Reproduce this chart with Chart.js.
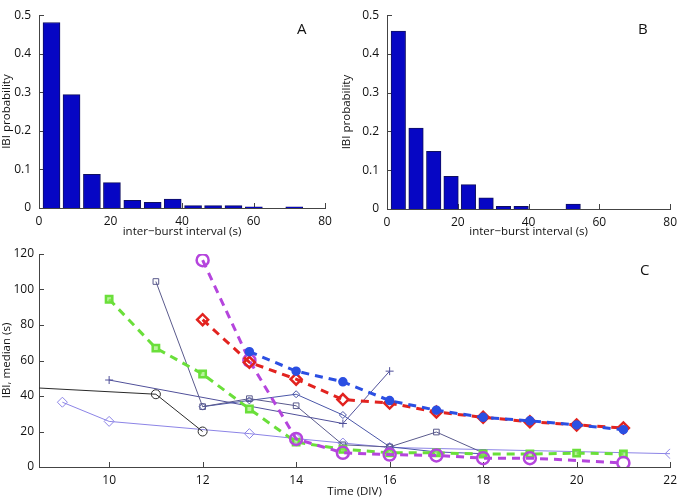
<!DOCTYPE html>
<html>
<head>
<meta charset="utf-8">
<script src="https://cdn.jsdelivr.net/npm/chart.js@4.4.1/dist/chart.umd.min.js"></script>
<style>
  body { margin: 0; background: #fff; }
  .fig { position: relative; width: 683px; height: 500px; }
  .fig canvas { position: absolute; }
  .tag { position: absolute; font: 15px "Open Sans", sans-serif; color: #111; }
</style>
</head>
<body>
<div class="fig">
  <canvas id="histA" width="340" height="240" style="left:0;top:0"></canvas>
  <canvas id="histB" width="343" height="240" style="left:340px;top:0"></canvas>
  <canvas id="lineC" width="683" height="260" style="left:0;top:240px"></canvas>
  <div class="tag" style="left:297px;top:18px">A</div>
  <div class="tag" style="left:638px;top:18px">B</div>
  <div class="tag" style="left:640px;top:259px">C</div>
</div>
<script>
// ---- panel A / B : IBI histograms
const binsA = [3.5, 9.1, 14.8, 20.4, 26.1, 31.8, 37.4, 43.1, 48.7, 54.4, 60.1, 65.7, 71.4];
const probA = [0.481, 0.294, 0.087, 0.066, 0.020, 0.015, 0.023, 0.006, 0.006, 0.006, 0.003, 0, 0.003];

const binsB = [3.2, 8.2, 13.2, 18.1, 23.0, 28.0, 32.9, 37.9, 42.8, 47.7, 52.6];
const probB = [0.459, 0.209, 0.149, 0.084, 0.063, 0.029, 0.0066, 0.0066, 0, 0, 0.013];

// ---- panel C : median IBI vs days in vitro
const blueDays = [13, 14, 15, 16, 17, 18, 19, 20, 21];
const blueIBI  = [65, 54, 48, 37.4, 32, 28, 26, 23.7, 21];
const redDays  = [12, 13, 14, 15, 16, 17, 18, 19, 20, 21];
const redIBI   = [83, 59, 49.5, 38, 36, 31, 28, 25.5, 23.7, 22];
const purpleDays = [12, 13, 14, 15, 16, 17, 18, 19, 21];
const purpleIBI  = [116.5, 60, 15.8, 8, 7, 6.5, 5, 5, 2.3];
const greenDays = [10, 11, 12, 13, 14, 15, 16, 17, 18, 19, 20, 21];
const greenIBI  = [94.5, 67, 52.4, 32.7, 14, 10, 8, 8, 7.3, 7.3, 7.8, 7.4];

const circDays = [8, 11, 12];
const circIBI  = [45.2, 41, 20];
const diamDays = [9, 10, 13, 14, 15, 16, 22];
const diamIBI  = [36.5, 25.7, 18.8, 16, 13.5, 11, 7.5];
const sqDays = [11, 12, 13, 14, 15, 16, 17, 18];
const sqIBI  = [104.5, 34, 38.5, 34.5, 12.5, 11.3, 19.7, 8];
const crossDays = [10, 15, 16];
const crossIBI  = [49, 24.5, 54];
const smallDays = [12, 13, 14, 15, 16, 17, 18];
const smallIBI  = [34, 37.5, 41, 29.3, 11.4, 8.5, 7.5];

const axisColor = "#444";
const fontFam = "'Open Sans', sans-serif";

Chart.defaults.font.family = fontFam;
Chart.defaults.color = "#111";
Chart.defaults.animation = false;

function pts(xs, ys) {
    return xs.map((x, i) => ({ x: x, y: ys[i] }));
}

// matlab style ticks pointing into the plot
const inwardTicks = {
    id: "inwardTicks",
    beforeDatasetsDraw(chart) {
        const { ctx, chartArea, scales } = chart;
        const x = scales.x, y = scales.y;
        ctx.save();
        ctx.strokeStyle = axisColor;
        ctx.lineWidth = 1;
        ctx.beginPath();
        x.ticks.forEach(t => {
            const px = Math.round(x.getPixelForValue(t.value)) + 0.5;
            ctx.moveTo(px, chartArea.bottom);
            ctx.lineTo(px, chartArea.bottom - 5);
        });
        y.ticks.forEach(t => {
            const py = Math.round(y.getPixelForValue(t.value)) + 0.5;
            ctx.moveTo(chartArea.left, py);
            ctx.lineTo(chartArea.left + 5, py);
        });
        ctx.stroke();
        ctx.restore();
    }
};

function axisX(opts) {
    return {
        type: "linear",
        offset: false,
        min: opts.min, max: opts.max,
        grid: { display: false, drawTicks: false, offset: false },
        border: { display: true, color: axisColor, width: 1 },
        ticks: { stepSize: opts.step, includeBounds: false, padding: 6, font: { size: 12 } },
        title: { display: true, text: opts.title, font: { size: 11.5 }, padding: { top: 0, bottom: 1 } },
        afterFit: s => { s.height = opts.height; }
    };
}

function axisY(opts) {
    return {
        min: opts.min, max: opts.max,
        grid: { display: false, drawTicks: false },
        border: { display: true, color: axisColor, width: 1 },
        ticks: { stepSize: opts.step, padding: opts.pad, font: { size: 12 } },
        title: { display: true, text: opts.title, font: { size: 11.5 }, padding: 0 },
        afterFit: s => { s.width = opts.width; }
    };
}

// ---------------- histograms
function histogram(id, bins, probs, thick, pad, yw, xh) {
    new Chart(document.getElementById(id), {
        type: "bar",
        data: {
            datasets: [{
                data: pts(bins, probs),
                backgroundColor: "#0606c4",
                borderColor: "#101060",
                borderWidth: 1,
                borderSkipped: "bottom",
                barThickness: thick
            }]
        },
        options: {
            responsive: false,
            layout: { padding: pad },
            plugins: { legend: { display: false }, tooltip: { enabled: false } },
            scales: {
                x: axisX({ min: 0, max: 80, step: 20, title: "inter\u2212burst interval (s)", height: xh }),
                y: axisY({ min: 0, max: 0.5, step: 0.1, title: "IBI probability", width: yw, pad: 8 })
            }
        },
        plugins: [inwardTicks]
    });
}

histogram("histA", binsA, probA, 17, { top: 8, right: 15, left: 0, bottom: 0 }, 39, 32);
histogram("histB", binsB, probB, 14.5, { top: 7, right: 10, left: 0, bottom: 0 }, 47, 31);

// ---------------- panel C
function dashed(label, xs, ys, color, style, radius, fill) {
    return {
        label: label,
        data: pts(xs, ys),
        borderColor: color,
        borderWidth: 3,
        borderDash: [8, 6],
        pointStyle: style,
        pointRadius: radius,
        pointBorderWidth: 2.5,
        pointBorderColor: color,
        pointBackgroundColor: fill
    };
}

function thin(label, xs, ys, color, style, radius) {
    return {
        label: label,
        data: pts(xs, ys),
        borderColor: color,
        borderWidth: 1,
        pointStyle: style,
        pointRadius: radius,
        pointBorderWidth: 1,
        pointBorderColor: color,
        pointBackgroundColor: "rgba(255,255,255,0)"
    };
}

new Chart(document.getElementById("lineC"), {
    type: "line",
    data: {
        datasets: [
            dashed("blue", blueDays, blueIBI, "#2b4fe2", "circle", 3.5, "#2b4fe2"),
            dashed("red", redDays, redIBI, "#e2231f", "rectRot", 5.5, "rgba(255,255,255,0)"),
            dashed("purple", purpleDays, purpleIBI, "#b545dd", "circle", 6, "rgba(255,255,255,0)"),
            dashed("green", greenDays, greenIBI, "#6adf3a", "rect", 4.5, "rgba(140,235,90,0.6)"),
            thin("squares", sqDays, sqIBI, "#5a5a8c", "rect", 4),
            thin("small", smallDays, smallIBI, "#4a56a8", "rectRot", 3.5),
            thin("crosses", crossDays, crossIBI, "#50509a", "cross", 4),
            thin("circles", circDays, circIBI, "#2a2a2a", "circle", 4.5),
            thin("diamonds", diamDays, diamIBI, "#8c84e6", "rectRot", 5)
        ]
    },
    options: {
        responsive: false,
        layout: { padding: { top: 14, right: 9, left: 0, bottom: 0 } },
        plugins: { legend: { display: false }, tooltip: { enabled: false } },
        scales: {
            x: axisX({ min: 8.5, max: 22, step: 2, title: "Time (DIV)", height: 33 }),
            y: axisY({ min: 0, max: 120, step: 20, title: "IBI, median (s)", width: 39, pad: 5 })
        }
    },
    plugins: [inwardTicks]
});
</script>
</body>
</html>
